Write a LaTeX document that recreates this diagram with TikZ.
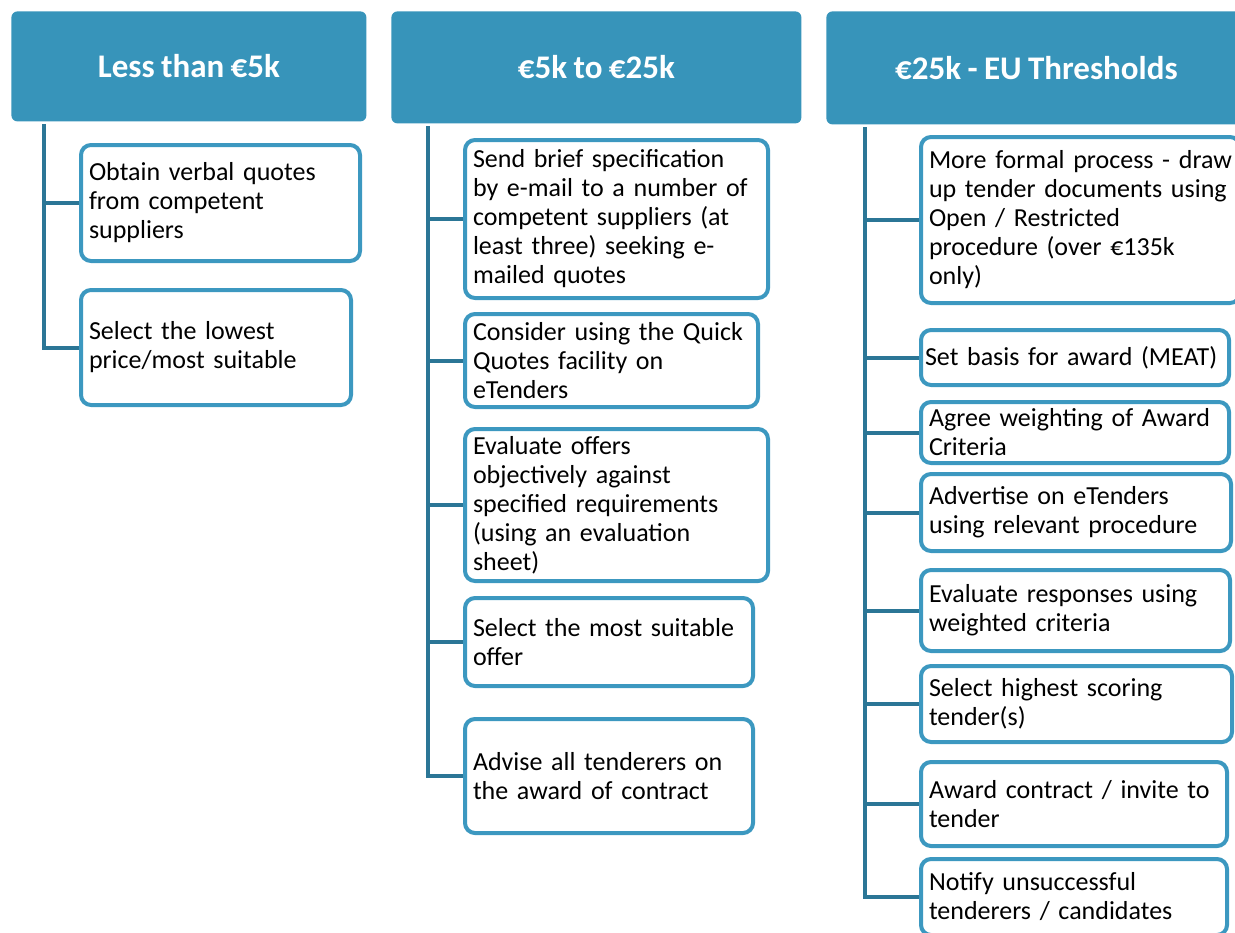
\documentclass[tikz,border=0pt]{standalone}
\usepackage{fontspec}
\setmainfont{Carlito}[WordSpace=0.85]
\definecolor{hdrblue}{RGB}{55,148,186}
\definecolor{boxblue}{RGB}{60,152,192}
\definecolor{linkblue}{RGB}{43,118,150}

\begin{document}
\begin{tikzpicture}[x=0.5pt,y=-0.5pt,
    header/.style={fill=hdrblue, rounded corners=3pt, anchor=north west, inner sep=0pt, text=white, font=\fontsize{16.5}{20}\selectfont\bfseries},
    item/.style={draw=boxblue, line width=2pt, fill=white, rounded corners=5pt, anchor=north west, align=left, inner xsep=4pt, inner ysep=0pt, font=\fontsize{13}{14.5}\selectfont},
    trunk/.style={draw=linkblue, line width=2pt}]
    \useasboundingbox (0,0) rectangle (1235,932);
    \node[header, minimum width=177.5pt, minimum height=55pt] (low) at (11,11) {Less than €5k};
    \node[header, minimum width=205pt, minimum height=56pt] (mid) at (391,11) {€5k to €25k};
    \node[header, minimum width=210pt, minimum height=56.5pt] (high) at (826,11) {€25k - EU Thresholds};

    \node[item, text width=131.5pt, minimum height=58pt] (low1) at (79,143) {Obtain verbal quotes\\from competent\\suppliers};
    \node[item, text width=127pt, minimum height=57.5pt] (low2) at (79,288) {Select the lowest\\price/most suitable};

    \node[item, text width=143.5pt, minimum height=79pt] (mid1) at (463,138) {Send brief specification\\by e-mail to a number of\\competent suppliers (at\\least three) seeking e-\\mailed quotes};
    \node[item, text width=138.5pt, minimum height=46.5pt] (mid2) at (463,312) {Consider using the Quick\\Quotes facility on\\eTenders};
    \node[item, text width=143.5pt, minimum height=76pt] (mid3) at (463,427) {Evaluate offers\\objectively against\\specified requirements\\(using an evaluation\\sheet)};
    \node[item, text width=136pt, minimum height=44pt] (mid4) at (463,596) {Select the most suitable\\offer};
    \node[item, text width=136pt, minimum height=57pt] (mid5) at (463,717) {Advise all tenderers on\\the award of contract};

    \node[item, text width=151.5pt, minimum height=83pt] (high1) at (919,135) {More formal process - draw\\up tender documents using\\Open / Restricted\\procedure (over €135k\\only)};
    \node[item, text width=150pt, inner xsep=2pt, minimum height=27.5pt] (high2) at (919,328) {Set basis for award (MEAT)};
    \node[item, text width=146pt, minimum height=30.5pt] (high3) at (919,400) {Agree weighting of Award\\Criteria};
    \node[item, text width=147pt, minimum height=38.5pt] (high4) at (919,472) {Advertise on eTenders\\using relevant procedure};
    \node[item, text width=146.5pt, minimum height=40.5pt] (high5) at (919,568) {Evaluate responses using\\weighted criteria};
    \node[item, text width=147.5pt, minimum height=38pt] (high6) at (919,664) {Select highest scoring\\tender(s)};
    \node[item, text width=145pt, minimum height=42pt] (high7) at (919,760) {Award contract / invite to\\tender};
    \node[item, text width=145pt, minimum height=38pt] (high8) at (919,857) {Notify unsuccessful\\tenderers / candidates};

    \coordinate (lowroot) at (44,124);
    \coordinate (midroot) at (428,126);
    \coordinate (highroot) at (865,127);
    \draw[trunk] (lowroot) |- (low2.west);
    \draw[trunk] (lowroot |- low1.west) -- (low1.west);
    \draw[trunk] (midroot) |- (mid5.west);
    \foreach \b in {mid1,mid2,mid3,mid4}
        \draw[trunk] (midroot |- \b.west) -- (\b.west);
    \draw[trunk] (highroot) |- (high8.west);
    \foreach \b in {high1,high2,high3,high4,high5,high6,high7}
        \draw[trunk] (highroot |- \b.west) -- (\b.west);
\end{tikzpicture}
\end{document}
